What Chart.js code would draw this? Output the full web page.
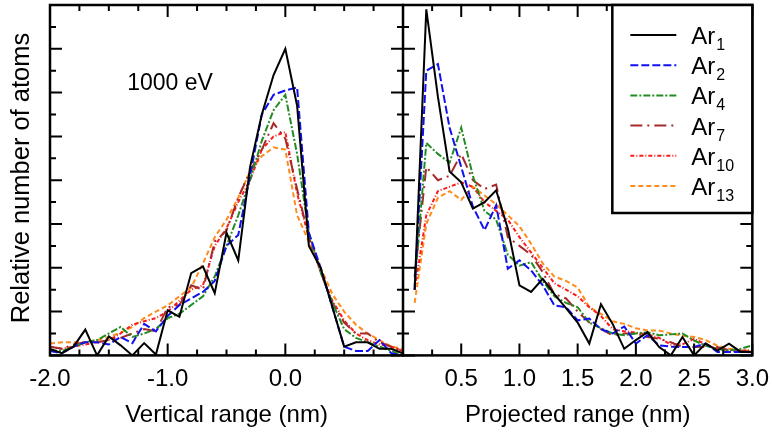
<!DOCTYPE html>
<html>
<head>
<meta charset="utf-8">
<script src="https://cdn.jsdelivr.net/npm/chart.js@4.4.1/dist/chart.umd.min.js"></script>
<style>
  html, body { margin: 0; padding: 0; background: #fff; }
  #wrap { position: relative; width: 772px; height: 434px; overflow: hidden; }
  .panel { position: absolute; top: 0; height: 434px; }
  #leftBox { left: 0; width: 404px; }
  #rightBox { left: 402px; width: 377px; }
</style>
</head>
<body>
<div id="wrap">
  <div class="panel" id="leftBox"><canvas id="leftChart"></canvas></div>
  <div class="panel" id="rightBox"><canvas id="rightChart"></canvas></div>
</div>
<script>
// Datos (unidades relativas)
const seriesNames = ['1', '2', '4', '7', '10', '13'];

// Panel izquierdo: rango vertical (nm)
const verticalX = [-2.0, -1.9, -1.8, -1.7, -1.6, -1.5, -1.4, -1.3, -1.2, -1.1, -1.0, -0.9, -0.8, -0.7, -0.6, -0.5,
  -0.4, -0.3, -0.2, -0.1, 0.0, 0.1, 0.2, 0.3, 0.4, 0.5, 0.6, 0.7, 0.8, 0.9, 1.0];
const ar1Vert = [0.15, 0.05, 0.2, 0.59, 0.0, 0.43, 0.23, 0.0, 0.28, 0.02, 1.03, 0.88, 1.88, 2.03, 1.42, 2.8,
  2.17, 4.3, 5.5, 6.4, 7.0, 5.7, 2.5, 2.0, 1.1, 0.2, 0.3, 0.3, 0.15, 0.15, 0.05];
const ar2Vert = [0.1, 0.05, 0.2, 0.3, 0.3, 0.25, 0.42, 0.28, 0.72, 0.55, 0.9, 1.15, 1.3, 1.45, 1.7, 2.5,
  2.75, 4.1, 5.5, 5.95, 6.05, 6.12, 2.8, 2.0, 1.1, 0.2, 0.1, 0.1, 0.35, 0.05, 0.0];
const ar4Vert = [0.12, 0.1, 0.2, 0.3, 0.35, 0.5, 0.65, 0.42, 0.5, 0.6, 0.85, 0.95, 1.15, 1.35, 1.8, 2.5,
  3.2, 4.0, 4.9, 5.6, 5.95, 4.6, 2.8, 1.9, 1.2, 0.6, 0.4, 0.3, 0.2, 0.1, 0.0];
const ar7Vert = [0.2, 0.15, 0.25, 0.3, 0.3, 0.35, 0.4, 0.5, 0.6, 0.55, 1.1, 1.15, 1.6, 1.5, 2.6, 2.85,
  3.6, 4.2, 4.7, 5.3, 4.95, 3.8, 2.7, 1.9, 1.2, 0.75, 0.5, 0.5, 0.3, 0.2, 0.1];
const ar10Vert = [0.2, 0.15, 0.2, 0.25, 0.3, 0.35, 0.5, 0.7, 0.78, 0.85, 1.0, 1.25, 1.5, 1.6, 2.5, 2.9,
  3.5, 4.0, 4.7, 5.0, 5.1, 3.7, 2.7, 1.9, 1.25, 0.8, 0.5, 0.35, 0.25, 0.2, 0.1];
const ar13Vert = [0.27, 0.3, 0.3, 0.3, 0.35, 0.42, 0.52, 0.65, 0.85, 1.0, 1.14, 1.35, 1.55, 2.1, 2.7, 3.1,
  3.6, 4.2, 4.55, 4.75, 4.7, 3.2, 2.6, 2.0, 1.4, 1.0, 0.7, 0.5, 0.35, 0.2, 0.15];

// Panel derecho: rango proyectado (nm)
const projectedX = [0.1, 0.2, 0.3, 0.4, 0.5, 0.6, 0.7, 0.8, 0.9, 1.0, 1.1, 1.2, 1.3, 1.4, 1.5,
  1.6, 1.7, 1.8, 1.9, 2.0, 2.1, 2.2, 2.3, 2.4, 2.5, 2.6, 2.7, 2.8, 2.9, 3.0];
const ar1Proj = [1.5, 7.9, 5.9, 4.2, 3.95, 3.35, 3.5, 3.77, 2.9, 1.6, 1.45, 1.75, 1.4, 1.08, 0.75,
  0.27, 1.17, 0.72, 0.15, 0.35, 0.53, 0.19, 0.0, 0.42, 0.0, 0.27, 0.11, 0.27, 0.08, 0.08];
const ar2Proj = [1.5, 6.5, 6.65, 5.2, 4.3, 3.4, 2.86, 3.43, 1.98, 2.17, 1.94, 1.6, 1.14, 1.1, 0.8,
  0.84, 0.6, 0.5, 0.66, 0.27, 0.46, 0.23, 0.2, 0.19, 0.19, 0.27, 0.08, 0.08, 0.08, 0.07];
const ar4Proj = [1.6, 4.85, 4.6, 4.4, 5.2, 4.1, 3.3, 3.1, 2.3, 2.05, 2.13, 1.7, 1.35, 1.2, 1.1,
  0.75, 0.62, 0.5, 0.46, 0.5, 0.53, 0.46, 0.48, 0.5, 0.34, 0.22, 0.15, 0.11, 0.15, 0.23];
const ar7Proj = [1.8, 4.3, 4.0, 4.1, 4.6, 4.0, 3.8, 3.9, 2.7, 2.5, 2.3, 1.9, 1.4, 1.3, 1.0,
  0.75, 0.6, 0.46, 0.5, 0.5, 0.42, 0.38, 0.3, 0.19, 0.19, 0.2, 0.19, 0.12, 0.1, 0.08];
const ar10Proj = [1.5, 3.2, 3.75, 3.85, 3.95, 3.85, 3.5, 3.3, 3.1, 2.7, 2.35, 2.0, 1.65, 1.5, 1.35,
  1.1, 0.9, 0.6, 0.55, 0.52, 0.48, 0.4, 0.25, 0.25, 0.38, 0.25, 0.15, 0.12, 0.11, 0.11];
const ar13Proj = [1.2, 3.0, 3.6, 3.75, 3.55, 3.85, 3.65, 3.45, 3.2, 2.95, 2.55, 2.1, 1.8, 1.7, 1.55,
  1.1, 0.95, 0.78, 0.72, 0.62, 0.57, 0.57, 0.5, 0.45, 0.42, 0.35, 0.22, 0.15, 0.12, 0.1];

// Etiquetas de los ejes
const verticalTicks = [-2.0, -1.0, 0.0];
const projectedTicks = [0.5, 1.0, 1.5, 2.0, 2.5, 3.0];

const FONT = "'Liberation Sans', Arial, sans-serif";

// Estilo de cada serie
const styles = [
  { color: '#000000', dash: [] },
  { color: '#1010f0', dash: [8, 3] },
  { color: '#228b22', dash: [7, 2, 2, 2] },
  { color: '#a52a2a', dash: [12, 5, 2, 5] },
  { color: '#ff1a1a', dash: [4, 2, 1, 2] },
  { color: '#ff8c1a', dash: [5, 3] }
];

function makeDatasets(xs, seriesList) {
  return seriesList.map((ys, i) => ({
    label: 'Ar' + seriesNames[i],
    data: xs.map((x, j) => ({ x: x, y: ys[j] })),
    borderColor: styles[i].color,
    borderDash: styles[i].dash,
    borderWidth: 2,
    pointRadius: 0,
    tension: 0,
    fill: false
  }));
}

// Marco con marcas hacia dentro en los cuatro lados
const framePlugin = {
  id: 'frame',
  afterDatasetsDraw(chart, args, opts) {
    const { ctx, chartArea: a, scales } = chart;
    const x = scales.x, y = scales.y;
    ctx.save();
    ctx.strokeStyle = '#000';
    ctx.lineWidth = 2;
    ctx.setLineDash([]);
    ctx.beginPath();
    const nx = Math.round((x.max - x.min) / opts.minor);
    for (let k = 0; k <= nx; k++) {
      const v = x.min + k * opts.minor;
      const major = Math.abs(v / opts.major - Math.round(v / opts.major)) < 1e-6;
      const len = major ? 12 : 6;
      const px = x.getPixelForValue(v);
      ctx.moveTo(px, a.bottom); ctx.lineTo(px, a.bottom - len);
      ctx.moveTo(px, a.top); ctx.lineTo(px, a.top + len);
    }
    for (let k = 0; k <= 16; k++) {
      const v = k * 0.5;
      const len = (k % 2 === 0) ? 12 : 6;
      const py = y.getPixelForValue(v);
      ctx.moveTo(a.left, py); ctx.lineTo(a.left + len, py);
      ctx.moveTo(a.right, py); ctx.lineTo(a.right - len, py);
    }
    ctx.stroke();
    ctx.lineWidth = 2.5;
    ctx.strokeRect(a.left, a.top, a.right - a.left, a.bottom - a.top);
    ctx.restore();
  }
};

// Texto del panel izquierdo
const leftTextPlugin = {
  id: 'leftText',
  afterDraw(chart) {
    const { ctx } = chart;
    ctx.save();
    ctx.fillStyle = '#000';
    ctx.font = '23px ' + FONT;
    ctx.textAlign = 'center';
    ctx.textBaseline = 'middle';
    ctx.fillText('1000 eV', 170, 84);
    ctx.translate(22, 178);
    ctx.rotate(-Math.PI / 2);
    ctx.font = '25.5px ' + FONT;
    ctx.fillText('Relative number of atoms', 0, 0);
    ctx.restore();
  }
};

// Leyenda con subíndices
const legendPlugin = {
  id: 'subLegend',
  afterDraw(chart) {
    const { ctx, chartArea: a } = chart;
    const w = 140, h = 208;
    const left = a.right - w, top = a.top;
    ctx.save();
    ctx.fillStyle = '#fff';
    ctx.fillRect(left, top, w, h);
    ctx.strokeStyle = '#000';
    ctx.lineWidth = 2.5;
    ctx.strokeRect(left, top, w, h);
    chart.data.datasets.forEach((ds, i) => {
      const yy = top + 30 + i * 30.2;
      ctx.strokeStyle = ds.borderColor;
      ctx.lineWidth = 2;
      ctx.setLineDash(ds.borderDash);
      ctx.beginPath();
      ctx.moveTo(left + 18, yy);
      ctx.lineTo(left + 64, yy);
      ctx.stroke();
      ctx.setLineDash([]);
      ctx.fillStyle = '#000';
      ctx.textBaseline = 'alphabetic';
      ctx.textAlign = 'left';
      ctx.font = '24px ' + FONT;
      const tx = left + 79;
      ctx.fillText('Ar', tx, yy + 9);
      const aw = ctx.measureText('Ar').width;
      ctx.font = '16px ' + FONT;
      ctx.fillText(seriesNames[i], tx + aw + 1, yy + 15);
    });
    ctx.restore();
  }
};

function baseOptions(xMin, xMax, tickList, title, padding) {
  return {
    responsive: true,
    maintainAspectRatio: false,
    animation: false,
    layout: { padding: padding },
    plugins: { legend: { display: false }, tooltip: { enabled: false } },
    scales: {
      x: {
        type: 'linear',
        min: xMin,
        max: xMax,
        afterBuildTicks: (scale) => { scale.ticks = tickList.map(v => ({ value: v })); },
        grid: { display: false, drawTicks: false },
        border: { display: false },
        ticks: {
          color: '#000',
          font: { family: FONT, size: 24 },
          padding: 10,
          maxRotation: 0,
          autoSkip: false,
          callback: (v) => Number(v).toFixed(1)
        },
        title: {
          display: true,
          text: title,
          color: '#000',
          font: { family: FONT, size: 24, lineHeight: 0.95 },
          padding: { top: 0, bottom: 6 }
        }
      },
      y: { display: false, min: 0, max: 8 }
    }
  };
}

const leftOpts = baseOptions(-2, 1, verticalTicks, 'Vertical range (nm)', { left: 50, right: 1, top: 5, bottom: 1 });
leftOpts.plugins.frame = { minor: 0.25, major: 1 };
new Chart(document.getElementById('leftChart'), {
  type: 'line',
  data: { datasets: makeDatasets(verticalX, [ar1Vert, ar2Vert, ar4Vert, ar7Vert, ar10Vert, ar13Vert]) },
  options: leftOpts,
  plugins: [framePlugin, leftTextPlugin]
});

const rightOpts = baseOptions(0, 3, projectedTicks, 'Projected range (nm)', { left: 1, right: 12, top: 5, bottom: 1 });
rightOpts.plugins.frame = { minor: 0.25, major: 0.5 };
new Chart(document.getElementById('rightChart'), {
  type: 'line',
  data: { datasets: makeDatasets(projectedX, [ar1Proj, ar2Proj, ar4Proj, ar7Proj, ar10Proj, ar13Proj]) },
  options: rightOpts,
  plugins: [framePlugin, legendPlugin]
});
</script>
</body>
</html>
